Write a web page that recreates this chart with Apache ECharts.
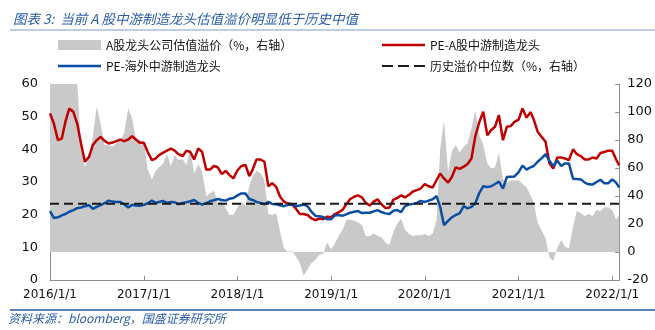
<!DOCTYPE html>
<html>
<head>
<meta charset="utf-8">
<script src="https://cdn.jsdelivr.net/npm/echarts@6/dist/echarts.min.js"></script>
<style>
  html, body { margin: 0; padding: 0; background: #fff; }
  #chart { width: 655px; height: 330px; }
</style>
</head>
<body>
<div id="chart"></div>
<script>
// Sampling dates (1st and 16th of each month)
const dates = [
  '2016-01-01','2016-01-16','2016-02-01','2016-02-16','2016-03-01','2016-03-16','2016-04-01','2016-04-16','2016-05-01','2016-05-16','2016-06-01','2016-06-16',
  '2016-07-01','2016-07-16','2016-08-01','2016-08-16','2016-09-01','2016-09-16','2016-10-01','2016-10-16','2016-11-01','2016-11-16','2016-12-01','2016-12-16',
  '2017-01-01','2017-01-16','2017-02-01','2017-02-16','2017-03-01','2017-03-16','2017-04-01','2017-04-16','2017-05-01','2017-05-16','2017-06-01','2017-06-16',
  '2017-07-01','2017-07-16','2017-08-01','2017-08-16','2017-09-01','2017-09-16','2017-10-01','2017-10-16','2017-11-01','2017-11-16','2017-12-01','2017-12-16',
  '2018-01-01','2018-01-16','2018-02-01','2018-02-16','2018-03-01','2018-03-16','2018-04-01','2018-04-16','2018-05-01','2018-05-16','2018-06-01','2018-06-16',
  '2018-07-01','2018-07-16','2018-08-01','2018-08-16','2018-09-01','2018-09-16','2018-10-01','2018-10-16','2018-11-01','2018-11-16','2018-12-01','2018-12-16',
  '2019-01-01','2019-01-16','2019-02-01','2019-02-16','2019-03-01','2019-03-16','2019-04-01','2019-04-16','2019-05-01','2019-05-16','2019-06-01','2019-06-16',
  '2019-07-01','2019-07-16','2019-08-01','2019-08-16','2019-09-01','2019-09-16','2019-10-01','2019-10-16','2019-11-01','2019-11-16','2019-12-01','2019-12-16',
  '2020-01-01','2020-01-16','2020-02-01','2020-02-16','2020-03-01','2020-03-16','2020-04-01','2020-04-16','2020-05-01','2020-05-16','2020-06-01','2020-06-16',
  '2020-07-01','2020-07-16','2020-08-01','2020-08-16','2020-09-01','2020-09-16','2020-10-01','2020-10-16','2020-11-01','2020-11-16','2020-12-01','2020-12-16',
  '2021-01-01','2021-01-16','2021-02-01','2021-02-16','2021-03-01','2021-03-16','2021-04-01','2021-04-16','2021-05-01','2021-05-16','2021-06-01','2021-06-16',
  '2021-07-01','2021-07-16','2021-08-01','2021-08-16','2021-09-01','2021-09-16','2021-10-01','2021-10-16','2021-11-01','2021-11-16','2021-12-01','2021-12-16',
  '2022-01-01','2022-01-16','2022-01-28'
];

// A股龙头公司估值溢价（%，右轴）
const premiumA = [
  130,130,130,130,130,130,130,122,74,60.5,67.6,82.4,104,91.9,76.4,76.2,75.2,77.6,79.5,84.8,102.6,95.5,80.5,80.0,
  78.8,59.0,51.9,58.1,60.5,62.9,70.0,61.4,69.3,65.7,66.2,62.1,74.0,56.0,62.9,57.4,40.0,41.9,43.8,35.2,37.1,31.2,26.4,26.4,
  31.9,36.0,32.9,47.1,54.3,58.1,56.2,51.4,27.1,26.4,27.6,14.5,2.6,0.2,0.7,-3.0,-8.0,-17.0,-12.4,-8.1,-5.5,-2.0,-1.4,6.7,
  1.9,6.0,12.1,16.2,22.9,23.3,22.4,21.0,19.3,11.4,11.4,13.3,11.4,10.5,6.7,5.0,14.5,20.5,23.8,15.7,12.9,11.4,11.9,11.9,
  12.9,11.4,13.3,22.9,72.9,94.0,57.4,72.4,76.4,71.0,75.2,77.6,88.3,101.0,83.6,76.4,63.3,59.8,60.5,71.0,51.9,49.5,51.0,51.0,
  51.4,48.6,46.2,40.7,35.2,21.0,15.2,9.8,-4.0,-6.5,3.3,8.6,3.8,2.6,18.1,29.5,27.6,25.7,27.1,25.7,30.0,29.3,31.9,31.9,
  30.0,23.3,26.4
];

// PE-A股中游制造龙头
const peA = [
  51.0,47.9,42.8,43.3,48.4,52.5,51.5,47.9,41.8,36.2,37.7,41.3,42.8,43.8,42.6,41.8,42.1,42.5,43.0,42.5,43.0,44.0,43.0,42.0,
  42.0,39.2,36.7,37.2,38.2,38.9,39.6,40.2,39.6,38.5,37.9,39.6,39.2,36.9,40.3,39.2,33.8,33.8,34.9,34.5,32.4,33.4,32.1,31.1,
  33.6,34.9,35.2,31.8,33.8,36.9,36.9,36.2,28.7,29.6,28.5,25.5,24.0,23.4,23.2,21.9,20.2,20.2,19.9,18.9,18.3,18.8,18.6,19.4,
  19.2,20.2,20.8,21.6,23.2,24.7,25.5,25.9,25.3,23.6,22.8,24.0,24.7,23.2,22.0,22.2,24.6,25.1,25.9,25.3,26.1,27.1,27.5,28.0,
  29.4,28.7,28.3,30.6,32.6,31.1,29.8,31.6,34.5,34.0,34.7,35.5,37.2,44.0,48.4,51.5,44.3,45.9,46.9,50.5,42.8,46.9,47.1,48.4,
  49.1,52.5,49.7,51.4,49.1,45.4,43.8,42.3,35.7,34.1,37.5,37.5,37.2,36.7,40.0,38.5,37.9,36.9,36.9,37.5,37.2,38.9,39.2,39.6,
  39.6,36.9,35.1
];

// PE-海外中游制造龙头
const peOverseas = [
  21.1,19.0,19.2,19.8,20.2,20.9,21.4,22.0,22.2,22.6,22.9,21.8,22.4,22.9,23.5,24.3,24.0,23.9,23.9,23.2,22.2,23.0,22.8,22.7,
  23.0,23.5,24.3,23.6,23.9,24.2,23.6,23.9,23.8,23.2,23.6,23.8,24.1,24.5,23.6,23.1,23.5,24.1,24.4,24.8,24.5,24.3,24.9,25.1,
  25.9,26.5,26.5,24.8,24.5,23.9,23.6,23.2,23.9,23.3,23.2,22.9,22.6,23.0,23.1,22.6,22.8,23.1,22.6,20.9,19.6,19.5,19.3,18.6,
  18.6,19.8,19.8,19.7,20.1,20.6,20.9,21.1,20.5,20.6,20.6,21.0,21.4,20.8,20.4,20.2,21.2,21.4,20.8,22.6,23.1,23.3,23.6,24.2,
  23.9,24.3,24.7,25.7,22.4,16.8,18.1,19.2,19.9,20.4,22.6,21.9,22.4,23.5,26.7,28.7,28.5,28.7,29.4,30.1,28.0,31.5,31.6,31.7,
  33.0,35.0,33.8,34.5,34.9,36.2,37.3,38.5,36.5,34.9,36.5,34.9,35.7,35.7,31.0,30.9,30.8,29.8,29.3,29.2,30.0,30.7,29.6,29.6,
  30.8,29.8,28.3
];

// 历史溢价中位数（%，右轴）
const premiumMedian = 34.5;

// X-axis tick dates (year starts)
const yearTicks = ['2016-01-01','2017-01-01','2018-01-01','2019-01-01','2020-01-01','2021-01-01','2022-01-01'];

const names = ['A股龙头公司估值溢价（%，右轴）', 'PE-A股中游制造龙头', 'PE-海外中游制造龙头', '历史溢价中位数（%，右轴）'];

const ts = s => { const p = s.split('-').map(Number); return Date.UTC(p[0], p[1] - 1, p[2]); };
const xs = dates.map(ts);
const pair = arr => arr.map((v, i) => [xs[i], v]);
const tickTs = yearTicks.map(ts);

const CJK = '"Noto Sans CJK SC", "Noto Sans", sans-serif';
const NUM = '"DejaVu Sans", "Liberation Sans", sans-serif';

const GREY = '#c9c9c9', RED = '#c00000', BLUE = '#0a4ea3', BLACK = '#1a1a1a';

const legendBase = {
  orient: 'horizontal', padding: 0, itemWidth: 43, itemGap: 5,
  textStyle: { fontFamily: CJK, fontSize: 12, color: '#111' },
  selectedMode: false
};

const chart = echarts.init(document.getElementById('chart'), null, { renderer: 'canvas' });
chart.setOption({
  animation: false,
  backgroundColor: '#fff',
  title: {
    text: '图表 3:  当前 A 股中游制造龙头估值溢价明显低于历史中值',
    left: 8, top: 7,
    textStyle: { fontFamily: CJK, fontStyle: 'italic', fontWeight: 'normal', fontSize: 13.5, color: '#2a5ca8' }
  },
  legend: [
    Object.assign({}, legendBase, { left: 58, top: 39, itemHeight: 10,
      data: [{ name: names[0], icon: 'rect', itemStyle: { color: GREY } }] }),
    Object.assign({}, legendBase, { left: 382, top: 39, itemHeight: 2.5,
      data: [{ name: names[1], icon: 'rect', itemStyle: { color: RED } }] }),
    Object.assign({}, legendBase, { left: 58, top: 60, itemHeight: 2.5,
      data: [{ name: names[2], icon: 'rect', itemStyle: { color: BLUE } }] }),
    Object.assign({}, legendBase, { left: 382, top: 60, itemHeight: 2,
      data: [{ name: names[3], icon: 'path://M0,0H11V2H0Z M16,0H27V2H16Z M32,0H43V2H32Z', itemStyle: { color: BLACK } }] })
  ],
  grid: { left: 50, right: 30, top: 84, bottom: 50, containLabel: false },
  xAxis: {
    type: 'value',
    min: xs[0],
    max: xs[xs.length - 1],
    axisLine: { show: true, onZero: false, lineStyle: { color: '#8c8c8c', width: 1 } },
    axisTick: { show: true, inside: true, length: 4, customValues: tickTs, lineStyle: { color: '#8c8c8c' } },
    axisLabel: {
      customValues: tickTs,
      margin: 9,
      fontFamily: NUM, fontSize: 12, color: '#111',
      hideOverlap: false,
      formatter: v => { const d = new Date(v); return d.getUTCFullYear() + '/' + (d.getUTCMonth() + 1) + '/' + d.getUTCDate(); }
    },
    splitLine: { show: false }
  },
  yAxis: [
    {
      type: 'value', min: 0, max: 60, interval: 10, position: 'left',
      axisLine: { show: true, lineStyle: { color: '#8c8c8c' } },
      axisTick: { show: true, inside: true, length: 4, lineStyle: { color: '#8c8c8c' } },
      axisLabel: { margin: 12, fontFamily: NUM, fontSize: 13, color: '#111' },
      splitLine: { show: false }
    },
    {
      type: 'value', min: -20, max: 120, interval: 20, position: 'right',
      axisLine: { show: true, lineStyle: { color: '#8c8c8c' } },
      axisTick: { show: true, inside: true, length: 4, lineStyle: { color: '#8c8c8c' } },
      axisLabel: { margin: 8, fontFamily: NUM, fontSize: 13, color: '#111' },
      splitLine: { show: false }
    }
  ],
  series: [
    {
      name: names[0], type: 'line', yAxisIndex: 1, data: pair(premiumA),
      symbol: 'none', clip: true, color: GREY,
      lineStyle: { width: 0, color: GREY },
      areaStyle: { color: GREY, opacity: 1 },
      z: 1
    },
    {
      name: names[1], type: 'line', yAxisIndex: 0, data: pair(peA),
      symbol: 'none', color: RED,
      lineStyle: { width: 2.5, color: RED },
      z: 3
    },
    {
      name: names[2], type: 'line', yAxisIndex: 0, data: pair(peOverseas),
      symbol: 'none', color: BLUE,
      lineStyle: { width: 2.5, color: BLUE },
      z: 3
    },
    {
      name: names[3], type: 'line', yAxisIndex: 1,
      data: [[xs[0], premiumMedian], [xs[xs.length - 1], premiumMedian]],
      symbol: 'none', color: BLACK,
      lineStyle: { width: 2, color: BLACK, type: [9, 5] },
      z: 4
    }
  ],
  graphic: [
    { type: 'line', shape: { x1: 10, y1: 30, x2: 655, y2: 30 }, style: { stroke: '#7f9cc9', lineWidth: 1 } },
    { type: 'line', shape: { x1: 10, y1: 310, x2: 655, y2: 310 }, style: { stroke: '#2457a6', lineWidth: 1.5 } },
    {
      type: 'text', left: 8, top: 312,
      style: { text: '资料来源：bloomberg，国盛证券研究所', fontFamily: CJK, fontStyle: 'italic', fontSize: 12, fill: '#2a5ca8' }
    }
  ]
});
</script>
</body>
</html>
